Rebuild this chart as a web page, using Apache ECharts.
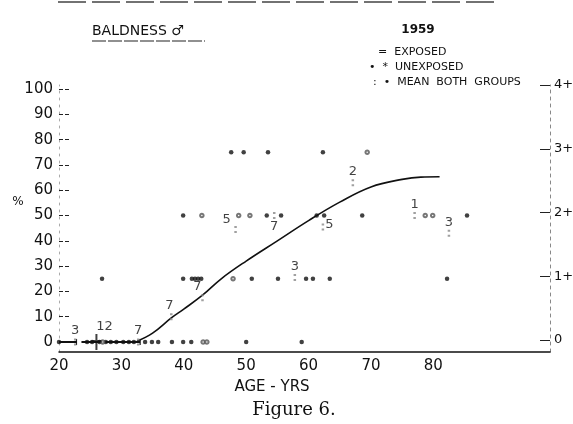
<!DOCTYPE html>
<html>
<head>
<meta charset="utf-8">
<script src="https://cdn.jsdelivr.net/npm/echarts@6/dist/echarts.min.js"></script>
<style>
  html, body { margin: 0; padding: 0; background: #fff; }
  #chart { width: 573px; height: 424px; }
</style>
</head>
<body>
<div id="chart"></div>
<script>
// Male baldness by age, 1959 survey: exposed vs unexposed, with group means

// Axis ticks
const ageTicks = [20, 30, 40, 50, 60, 70, 80];
const pctTicks = [0, 10, 20, 30, 40, 50, 60, 70, 80, 90, 100];
const gradeTicks = [0, 1, 2, 3, 4];
const gradeLabels = ['0', '1+', '2+', '3+', '4+'];

// Unexposed subjects (ages), grouped by baldness %
const unexposed0 = [20, 24.5, 25.3, 26.5, 27.5, 28.3, 29.2, 30.3, 31.2, 32, 33.8, 34.9, 35.9, 38.1, 39.9, 41.2, 50, 58.9];
const unexposed25 = [26.9, 39.9, 41.3, 41.8, 42.3, 42.8, 50.9, 55.1, 59.6, 60.7, 63.4, 82.2];
const unexposed50 = [39.9, 53.3, 55.6, 61.3, 62.5, 68.6, 85.4];
const unexposed75 = [47.6, 49.6, 53.5, 62.3];

// Exposed subjects (ages), grouped by baldness %
const exposed0 = [27, 43.1, 43.7];
const exposed25 = [47.9];
const exposed50 = [42.9, 48.8, 50.6, 78.7, 79.9];
const exposed75 = [69.4];

// Means of both groups, with number of subjects
const meanAge = [22.6, 26, 32.7, 38, 43, 48.3, 54.5, 57.8, 62.3, 67.1, 77, 82.5];
const meanPct = [0, 0, 0, 10, 17.5, 44.5, 50, 25.5, 45.5, 63, 50, 43];
const meanCount = [3, 12, 7, 7, 7, 5, 7, 3, 5, 2, 1, 3];

// Fitted trend
const curveAge = [32.5, 35, 38, 40, 43, 46, 50, 55, 60, 65, 70, 75, 78, 81];
const curvePct = [0.3, 3.5, 9.5, 13, 18.5, 25, 32, 40, 48, 55.3, 61.3, 64.3, 65.2, 65.3];

// Age spread of the youngest groups (all at 0 %)
const spreadFrom = [20, 23.6];
const spreadTo = [22.8, 33];

// Label placement for the mean counts
const meanLabelPos = ['top', 'top', 'top', 'top', 'top', 'top', 'bottom', 'top', 'right', 'top', 'top', 'top'];
const meanLabelOffset = [[0, 0], [8, 0], [0, 0], [-2, 0], [-5, 0], [-9, 1], [0, 0], [0, 0], [0, -2], [0, 0], [0, 0], [0, 0]];

function rows(groups) {
  const pts = [];
  groups.forEach(([ages, pct]) => ages.forEach(a => pts.push([a, pct])));
  return pts;
}

const unexposedPts = rows([[unexposed0, 0], [unexposed25, 25], [unexposed50, 50], [unexposed75, 75]]);
const exposedPts = rows([[exposed0, 0], [exposed25, 25], [exposed50, 50], [exposed75, 75]]);
const curvePts = curveAge.map((a, i) => [a, curvePct[i]]);
const spreadPts = spreadFrom.map((a, i) => [a, spreadTo[i]]);

const colonPath = 'path://M0,0h2v2h-2z M0,5h2v2h-2z';
const plusPath = 'path://M4,0h2v16h-2z M0,6h10v2.5h-10z';

const meanPts = meanAge.map((a, i) => ({
  value: [a, meanPct[i], meanCount[i]],
  symbol: meanCount[i] === 12 ? plusPath : colonPath,
  symbolSize: meanCount[i] === 12 ? [10, 16] : [2.5, 7],
  itemStyle: { color: meanCount[i] === 12 ? '#111' : '#888' },
  label: { position: meanLabelPos[i], offset: meanLabelOffset[i] }
}));

const FONT = 'DejaVu Sans';
const INK = '#111';

const chart = echarts.init(document.getElementById('chart'), null, { renderer: 'canvas' });

chart.setOption({
  backgroundColor: '#fff',
  animation: false,
  grid: { left: 59, right: 23, top: 85, bottom: 72, containLabel: false, outerBoundsMode: 'none' },
  xAxis: {
    type: 'value', min: 20, max: 98.7, interval: 10,
    axisLine: { onZero: false, lineStyle: { color: '#111', width: 1.5 } },
    axisTick: { show: false },
    splitLine: { show: false },
    axisLabel: {
      margin: 7, fontSize: 15, fontFamily: FONT, color: INK,
      formatter: v => (ageTicks.indexOf(v) >= 0 ? String(v) : '')
    }
  },
  yAxis: [
    {
      type: 'value', min: -3.95, max: 101.6, position: 'left',
      axisLine: { show: true, lineStyle: { color: '#aaa', width: 1, type: [2, 5] } },
      axisTick: { show: true, inside: true, length: 11, customValues: pctTicks, lineStyle: { color: '#222', width: 1, type: [4, 2] } },
      axisLabel: { customValues: pctTicks, margin: 6, fontSize: 15, fontFamily: FONT, color: INK },
      splitLine: { show: false }
    },
    {
      type: 'value', min: -0.188, max: 4, position: 'right',
      axisLine: { show: true, lineStyle: { color: '#888', width: 1, type: [3, 4] } },
      axisTick: { show: true, inside: true, length: 10, customValues: gradeTicks, lineStyle: { color: '#222', width: 1 } },
      axisLabel: {
        customValues: gradeTicks, margin: 4, fontSize: 13, fontFamily: FONT, color: INK,
        formatter: v => gradeLabels[Math.round(v)]
      },
      splitLine: { show: false }
    }
  ],
  series: [
    {
      name: 'Spread', type: 'custom', yAxisIndex: 0, data: spreadPts,
      renderItem: (params, api) => {
        const p0 = api.coord([api.value(0), 0]);
        const p1 = api.coord([api.value(1), 0]);
        return {
          type: 'group',
          children: [
            { type: 'line', shape: { x1: p0[0], y1: p0[1], x2: p1[0], y2: p1[1] }, style: { stroke: '#111', lineWidth: 2 } },
            { type: 'line', shape: { x1: p1[0], y1: p1[1] - 3, x2: p1[0], y2: p1[1] + 3 }, style: { stroke: '#111', lineWidth: 1.2 } }
          ]
        };
      }
    },
    {
      name: 'Trend', type: 'line', data: curvePts, smooth: 0.4, showSymbol: false,
      lineStyle: { color: '#111', width: 1.6 }, z: 3
    },
    {
      name: 'Unexposed', type: 'scatter', data: unexposedPts, symbol: 'circle', symbolSize: 4.5,
      itemStyle: { color: '#111' }, z: 4
    },
    {
      name: 'Exposed', type: 'scatter', data: exposedPts, symbol: 'emptyCircle', symbolSize: 3.5,
      itemStyle: { color: '#555', borderWidth: 1 }, z: 4
    },
    {
      name: 'Mean both groups', type: 'scatter', data: meanPts, z: 5,
      label: {
        show: true, distance: 1, fontSize: 13, fontFamily: FONT, color: INK,
        formatter: p => String(p.value[2])
      }
    }
  ],
  graphic: [
    // worn rule along the top edge
    { type: 'line', shape: { x1: 58, y1: 2, x2: 495, y2: 2 }, style: { stroke: '#444', lineWidth: 1.5, lineDash: [28, 6] } },
    // title
    { type: 'text', left: 92, top: 24, style: { text: 'BALDNESS ♂', fontSize: 14, fontFamily: FONT, fill: INK, letterSpacing: 1.5 } },
    { type: 'line', shape: { x1: 92, y1: 41, x2: 205, y2: 41 }, style: { stroke: '#222', lineWidth: 1.2, lineDash: [14, 2] } },
    { type: 'text', x: 418, y: 30, style: { text: '1959', fontSize: 12, fontWeight: 'bold', fontFamily: FONT, fill: INK, align: 'center', verticalAlign: 'middle', letterSpacing: 1 } },
    // key
    { type: 'text', x: 378, y: 52, style: { text: '=  EXPOSED', fontSize: 11, fontFamily: FONT, fill: INK, verticalAlign: 'middle', letterSpacing: 0.5 } },
    { type: 'text', x: 369, y: 67, style: { text: '•  *  UNEXPOSED', fontSize: 11, fontFamily: FONT, fill: INK, verticalAlign: 'middle', letterSpacing: 0.5 } },
    { type: 'text', x: 373, y: 82, style: { text: ':  •  MEAN  BOTH  GROUPS', fontSize: 11, fontFamily: FONT, fill: INK, verticalAlign: 'middle', letterSpacing: 0.3 } },
    // axis captions
    { type: 'text', x: 18, y: 202, style: { text: '%', fontSize: 12, fontFamily: FONT, fill: INK, align: 'center', verticalAlign: 'middle' } },
    { type: 'text', x: 272, y: 387, style: { text: 'AGE - YRS', fontSize: 15, fontFamily: FONT, fill: INK, align: 'center', verticalAlign: 'middle', letterSpacing: 0.5 } },
    { type: 'text', x: 294, y: 410, style: { text: 'Figure 6.', fontSize: 18, fontFamily: 'DejaVu Serif', fill: INK, align: 'center', verticalAlign: 'middle' } }
  ]
});
</script>
</body>
</html>
